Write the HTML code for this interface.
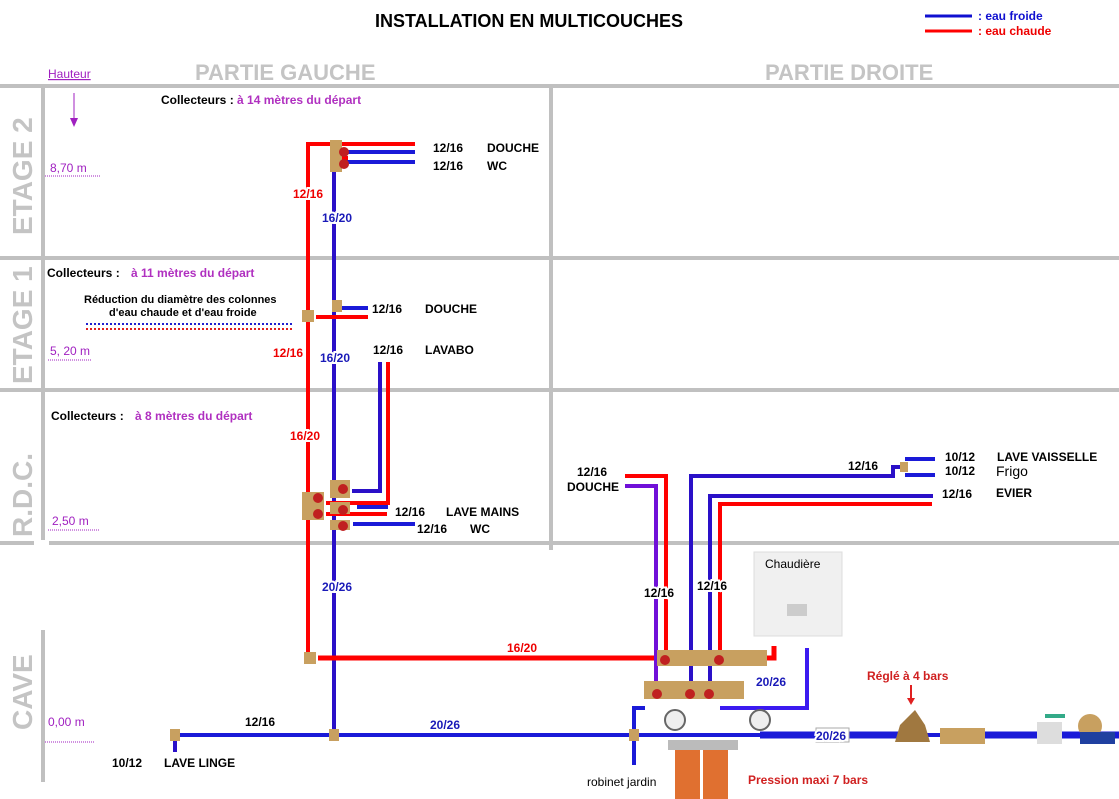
<!DOCTYPE html>
<html><head><meta charset="utf-8"><style>
body{margin:0;background:#fff;}
svg{display:block;font-family:"Liberation Sans",sans-serif;}
.b{font-weight:bold;font-size:12px;}
.h{paint-order:stroke;stroke:#fff;stroke-width:4px;}
</style></head><body>
<svg width="1119" height="799" viewBox="0 0 1119 799" xmlns="http://www.w3.org/2000/svg">
<g stroke="#c0c0c0" stroke-width="4">
<line x1="0" y1="86" x2="1119" y2="86"/>
<line x1="0" y1="258" x2="1119" y2="258"/>
<line x1="0" y1="390" x2="1119" y2="390"/>
<line x1="0" y1="543" x2="34" y2="543"/><line x1="49" y1="543" x2="1119" y2="543"/>
<line x1="43" y1="86" x2="43" y2="540"/>
<line x1="43" y1="630" x2="43" y2="782"/>
<line x1="551" y1="86" x2="551" y2="550"/>
</g>
<g fill="#c4c4c4" font-weight="bold" font-size="28">
<text transform="translate(32,235) rotate(-90)">ETAGE 2</text>
<text transform="translate(32,384) rotate(-90)">ETAGE 1</text>
<text transform="translate(32,537) rotate(-90)">R.D.C.</text>
<text transform="translate(32,730) rotate(-90)">CAVE</text>
</g>
<text x="195" y="80" fill="#c4c4c4" font-weight="bold" font-size="22">PARTIE GAUCHE</text>
<text x="765" y="80" fill="#c4c4c4" font-weight="bold" font-size="22">PARTIE DROITE</text>
<text x="375" y="27" font-weight="bold" font-size="18">INSTALLATION EN MULTICOUCHES</text>
<line x1="925" y1="16" x2="972" y2="16" stroke="#1010d0" stroke-width="3"/>
<line x1="925" y1="31" x2="972" y2="31" stroke="#f00" stroke-width="3"/>
<text x="978" y="20" fill="#1010d0" font-size="12" font-weight="bold">:  eau froide</text>
<text x="978" y="35" fill="#e00" font-size="12" font-weight="bold">:  eau chaude</text>
<g fill="#a020c0" font-size="12">
<text x="48" y="78" text-decoration="underline">Hauteur</text>
<text x="50" y="172">8,70 m</text>
<text x="50" y="355">5, 20 m</text>
<text x="52" y="525">2,50 m</text>
<text x="48" y="726">0,00 m</text>
</g>
<g stroke="#a020c0" stroke-dasharray="1,1" stroke-width="1">
<line x1="45" y1="176" x2="100" y2="176"/><line x1="48" y1="360" x2="92" y2="360"/>
<line x1="48" y1="530" x2="100" y2="530"/><line x1="45" y1="742" x2="95" y2="742"/>
</g>
<line x1="74" y1="93" x2="74" y2="122" stroke="#a020c0"/><polygon points="70,118 78,118 74,127" fill="#a020c0"/>
<g class="b" font-size="12">
<text x="161" y="104">Collecteurs : <tspan fill="#b030c0">à 14 mètres du départ</tspan></text>
<text x="47" y="277">Collecteurs :  <tspan fill="#b030c0" dx="8">à 11 mètres du départ</tspan></text>
<text x="51" y="420">Collecteurs :  <tspan fill="#b030c0" dx="8">à 8 mètres du départ</tspan></text>
</g>
<text x="84" y="303" font-size="11" font-weight="bold">Réduction du diamètre des colonnes</text>
<text x="109" y="316" font-size="11" font-weight="bold">d'eau chaude et d'eau froide</text>
<line x1="86" y1="324" x2="294" y2="324" stroke="#2020d0" stroke-width="2" stroke-dasharray="2,2"/>
<line x1="86" y1="329" x2="294" y2="329" stroke="#e02020" stroke-width="2" stroke-dasharray="2,2"/>
<g fill="none" stroke-width="4">
<polyline points="308,658 308,144 415,144" stroke="#f00"/>
<line x1="340" y1="152" x2="415" y2="152" stroke="#1a1ad8"/>
<line x1="340" y1="158" x2="348" y2="158" stroke="#f00"/>
<line x1="345" y1="162" x2="415" y2="162" stroke="#1a1ad8"/>
<line x1="334" y1="165" x2="334" y2="735" stroke="#2a10c8"/>
<line x1="340" y1="308" x2="368" y2="308" stroke="#1a1ad8"/>
<line x1="316" y1="317" x2="368" y2="317" stroke="#f00"/>
<polyline points="352,491 380,491 380,362" stroke="#2a10c8"/>
<polyline points="326,503 388,503 388,362" stroke="#f00"/>
<line x1="357" y1="507" x2="388" y2="507" stroke="#1a1ad8"/>
<line x1="326" y1="514" x2="387" y2="514" stroke="#f00"/>
<line x1="353" y1="524" x2="415" y2="524" stroke="#1a1ad8"/>
<line x1="318" y1="658" x2="660" y2="658" stroke="#f00" stroke-width="5"/>
<line x1="172" y1="735" x2="1119" y2="735" stroke="#1a1ad8"/>
<line x1="175" y1="735" x2="175" y2="752" stroke="#2a10c8"/>
<line x1="760" y1="735" x2="900" y2="735" stroke="#1a1ad8" stroke-width="7"/>
<line x1="980" y1="735" x2="1119" y2="735" stroke="#1a1ad8" stroke-width="7"/>
<polyline points="625,476 666,476 666,650" stroke="#f00"/>
<polyline points="625,486 656,486 656,686" stroke="#7010d8"/>
<polyline points="691,685 691,476 893,476 893,467 905,467" stroke="#2a10c8"/>
<line x1="905" y1="459" x2="935" y2="459" stroke="#1a1ad8"/>
<line x1="905" y1="475" x2="935" y2="475" stroke="#1a1ad8"/>
<polyline points="710,685 710,496 933,496" stroke="#2a10c8"/>
<polyline points="720,650 720,504 932,504" stroke="#f00"/>
<polyline points="725,658 774,658 774,646" stroke="#f00" stroke-width="5"/>
<polyline points="720,708 807,708 807,648" stroke="#3b1af0"/>
<polyline points="645,708 634,708 634,765" stroke="#1a1ad8"/>
</g>
<g fill="#c8a060">
<rect x="330" y="140" width="12" height="32"/>
<rect x="302" y="310" width="12" height="12"/><rect x="332" y="300" width="10" height="12"/>
<rect x="302" y="492" width="22" height="28"/><rect x="330" y="480" width="20" height="18"/>
<rect x="330" y="502" width="20" height="12"/><rect x="330" y="520" width="20" height="10"/>
<rect x="304" y="652" width="12" height="12"/><rect x="329" y="729" width="10" height="12"/>
<rect x="170" y="729" width="10" height="12"/><rect x="629" y="729" width="10" height="12"/>
<rect x="900" y="462" width="8" height="10"/>
<rect x="657" y="650" width="110" height="16"/><rect x="644" y="681" width="100" height="18"/>
<rect x="940" y="728" width="45" height="16"/>
</g>
<g fill="#c02020">
<circle cx="344" cy="152" r="5"/><circle cx="344" cy="164" r="5"/>
<circle cx="318" cy="498" r="5"/><circle cx="318" cy="514" r="5"/>
<circle cx="343" cy="489" r="5"/><circle cx="343" cy="510" r="5"/><circle cx="343" cy="526" r="5"/>
<circle cx="665" cy="660" r="5"/><circle cx="719" cy="660" r="5"/>
<circle cx="657" cy="694" r="5"/><circle cx="690" cy="694" r="5"/><circle cx="709" cy="694" r="5"/>
</g>
<rect x="754" y="552" width="88" height="84" fill="#f0f0f0" stroke="#ddd"/>
<text x="765" y="568" font-size="12">Chaudière</text>
<rect x="787" y="604" width="20" height="12" fill="#ccc"/>
<rect x="675" y="748" width="25" height="51" fill="#e07030"/><rect x="703" y="748" width="25" height="51" fill="#e07030"/>
<rect x="668" y="740" width="70" height="10" fill="#bbb"/>
<circle cx="675" cy="720" r="10" fill="#eee" stroke="#666" stroke-width="2"/>
<circle cx="760" cy="720" r="10" fill="#eee" stroke="#666" stroke-width="2"/>
<path d="M895,742 L900,725 L915,710 L925,725 L930,742 Z" fill="#a07840"/>
<rect x="1037" y="722" width="25" height="22" fill="#ddd"/>
<rect x="1045" y="714" width="20" height="4" fill="#3a8"/>
<circle cx="1090" cy="726" r="12" fill="#c8a060"/>
<rect x="1080" y="732" width="35" height="12" fill="#2040a0"/>
<rect x="816" y="728" width="33" height="14" fill="#fff" stroke="#aaa"/>
<line x1="911" y1="685" x2="911" y2="700" stroke="#e02020" stroke-width="2"/><polygon points="907,698 915,698 911,705" fill="#e02020"/>
<g class="b">
<text x="433" y="152">12/16</text><text x="487" y="152">DOUCHE</text>
<text x="433" y="170">12/16</text><text x="487" y="170">WC</text>
<text x="372" y="313">12/16</text><text x="425" y="313">DOUCHE</text>
<text x="373" y="354">12/16</text><text x="425" y="354">LAVABO</text>
<text x="395" y="516">12/16</text><text x="446" y="516">LAVE MAINS</text>
<text x="417" y="533">12/16</text><text x="470" y="533">WC</text>
<text x="245" y="726">12/16</text>
<text x="112" y="767">10/12</text><text x="164" y="767">LAVE LINGE</text>
<text x="577" y="476">12/16</text><text x="567" y="491">DOUCHE</text>
<text class="h" x="644" y="597">12/16</text><text class="h" x="697" y="590">12/16</text>
<text x="848" y="470">12/16</text>
<text x="945" y="461">10/12</text><text x="997" y="461">LAVE VAISSELLE</text>
<text x="945" y="475">10/12</text>
<text x="942" y="498">12/16</text><text x="996" y="497">EVIER</text>
</g>
<text x="996" y="476" font-size="14">Frigo</text>
<g class="b h" fill="#e00">
<text x="293" y="198">12/16</text><text x="273" y="357">12/16</text>
<text x="290" y="440">16/20</text><text x="507" y="652">16/20</text>
</g>
<g class="b h" fill="#1a1ab8">
<text x="322" y="222">16/20</text><text x="320" y="362">16/20</text>
<text x="322" y="591">20/26</text><text x="430" y="729">20/26</text>
<text x="756" y="686">20/26</text><text x="816" y="740">20/26</text>
</g>
<text x="587" y="786" font-size="12">robinet jardin</text>
<text x="748" y="784" fill="#d02020" font-weight="bold" font-size="12">Pression maxi 7 bars</text>
<text x="867" y="680" fill="#d02020" font-weight="bold" font-size="12">Réglé à 4 bars</text>
</svg>
</body></html>
